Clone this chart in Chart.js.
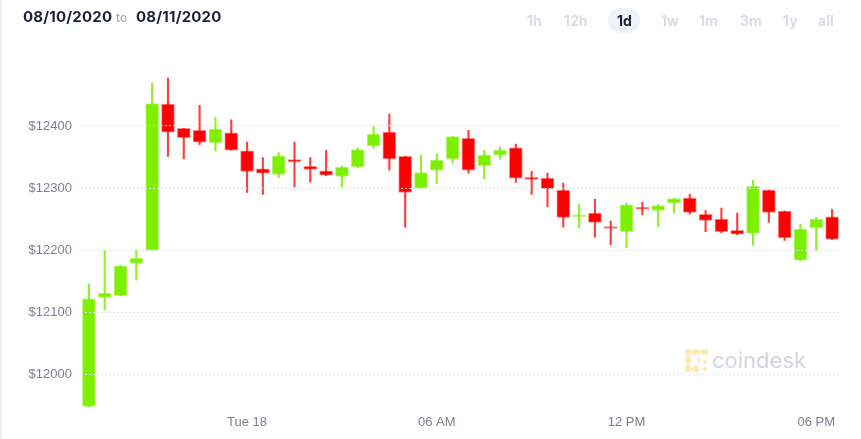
<!DOCTYPE html>
<html><head><meta charset="utf-8">
<script src="https://cdn.jsdelivr.net/npm/chart.js@4/dist/chart.umd.min.js"></script>
<style>
html,body{margin:0;padding:0;background:#fff;width:861px;height:439px;overflow:hidden;position:relative;font-family:Inter,"Liberation Sans",sans-serif}
#edge{position:absolute;left:0;top:0;width:2px;height:439px;background:#f1f2f6}
#cv{position:absolute;left:0;top:0}
.date{position:absolute;top:8px;font-size:15px;line-height:18px;font-weight:700;color:#1b2137;letter-spacing:0.2px}
.to{position:absolute;top:10px;left:116px;font-size:12px;line-height:16px;color:#a9acb8;font-weight:500}
.btn{position:absolute;top:12px;font-size:14px;line-height:18px;font-weight:700;color:#d9dce5}
#pill{position:absolute;left:608px;top:8px;width:32px;height:25px;border-radius:13px;background:#eef2f9}
#wm{position:absolute;left:712px;top:347px;font-size:22px;line-height:26px;color:#d3d5dd;font-weight:400}
#logo{position:absolute;left:684px;top:348px}
</style></head>
<body>
<div id="edge"></div>
<canvas id="cv" width="861" height="439"></canvas>
<div class="date" style="left:23px">08/10/2020</div>
<div class="to">to</div>
<div class="date" style="left:136px">08/11/2020</div>
<div id="pill"></div>
<div class="btn" style="left:527px">1h</div>
<div class="btn" style="left:564px">12h</div>
<div class="btn" style="left:617px;color:#1b2137">1d</div>
<div class="btn" style="left:661px">1w</div>
<div class="btn" style="left:699px">1m</div>
<div class="btn" style="left:740px">3m</div>
<div class="btn" style="left:783px">1y</div>
<div class="btn" style="left:818px">all</div>
<svg id="logo" width="25" height="25" viewBox="0 0 25 25">
 <g fill="#fde9b3" stroke="#fde9b3">
  <path d="M4 4 H21 M4 4 V21 M4 21 H11" stroke-width="3" fill="none"/>
  <circle cx="4" cy="4" r="3"/><circle cx="12" cy="4" r="3"/><circle cx="21" cy="4" r="3"/>
  <circle cx="4" cy="12" r="3"/><circle cx="4" cy="21" r="3"/><circle cx="12" cy="21" r="3"/>
  <circle cx="21" cy="14" r="1.5"/><circle cx="15" cy="12" r="1.5"/><circle cx="21" cy="21" r="1.5"/>
 </g>
</svg>
<div id="wm">coindesk</div>
<script>
const categories = ["19:00","19:30","20:00","20:30","21:00","21:30","22:00","22:30","23:00","23:30",
 "00:00","00:30","01:00","01:30","02:00","02:30","03:00","03:30","04:00","04:30","05:00","05:30",
 "06:00","06:30","07:00","07:30","08:00","08:30","09:00","09:30","10:00","10:30","11:00","11:30",
 "12:00","12:30","13:00","13:30","14:00","14:30","15:00","15:30","16:00","16:30","17:00","17:30",
 "18:00","18:30"];
const opens  = [11949,12124,12127,12179,12200,12435,12396,12393,12373,12389,12360,12331,12322,12346,12335,12328,12319,12334,12368,12390,12351,12300,12329,12347,12380,12336,12353,12365,12315,12316,12297,12254,12260,12237,12230,12269,12264,12276,12284,12258,12250,12232,12227,12297,12263,12184,12236,12254];
const highs  = [12146,12199,12176,12200,12469,12477,12396,12433,12414,12410,12374,12349,12357,12374,12349,12361,12336,12365,12399,12419,12351,12353,12355,12383,12393,12361,12366,12371,12327,12324,12308,12274,12282,12247,12276,12277,12274,12284,12290,12264,12268,12260,12313,12297,12263,12242,12253,12266];
const lows   = [11948,12104,12127,12152,12200,12351,12347,12370,12360,12361,12293,12290,12317,12302,12310,12320,12302,12333,12364,12329,12237,12300,12307,12340,12324,12315,12346,12309,12290,12270,12237,12236,12221,12209,12204,12257,12238,12260,12258,12230,12228,12225,12208,12245,12216,12183,12200,12217];
const closes = [12122,12131,12175,12187,12436,12390,12381,12374,12395,12361,12327,12324,12352,12342,12330,12321,12334,12362,12387,12347,12293,12325,12345,12383,12329,12353,12361,12316,12314,12299,12253,12256,12245,12235,12273,12266,12272,12283,12261,12248,12230,12226,12303,12261,12220,12234,12250,12218];
const yTicks = [12000,12100,12200,12300,12400];
const tickTimes = ["00:00","06:00","12:00","18:00"];
const tickTexts = ["Tue 18","06 AM","12 PM","06 PM"];

const GREEN='#7df000', RED='#ff0000';
const up = closes.map((c,i)=>c>=opens[i]);
const axisFont = {family:'"Liberation Sans", Arial, sans-serif', size:13};
new Chart(document.getElementById('cv'),{
 type:'bar',
 data:{labels:categories,datasets:[
  {data:opens.map((o,i)=>[o,closes[i]]),
   backgroundColor:up.map(u=>u?GREEN:RED),
   borderColor:up.map(u=>u?'rgba(125,240,0,0.5)':'rgba(255,0,0,0.45)'),
   borderWidth:1,borderSkipped:false,barThickness:13,minBarLength:2,grouped:false},
  {data:lows.map((l,i)=>[l,highs[i]]),
   backgroundColor:up.map(u=>u?'rgba(125,240,0,0.85)':'rgba(255,0,0,0.75)'),
   borderWidth:0,barThickness:1.5,grouped:false}
 ]},
 options:{responsive:false,animation:false,devicePixelRatio:1,
  layout:{padding:{left:0,right:21,top:63.8,bottom:0}},
  plugins:{legend:{display:false},tooltip:{enabled:false}},
  scales:{
   x:{grid:{display:false,drawTicks:false},border:{display:false},
      ticks:{autoSkip:false,maxRotation:0,padding:3,color:'#7b8091',font:axisFont,
        callback:(v,i)=>{const k=tickTimes.indexOf(categories[i]);return k>=0?tickTexts[k]:'';}},
      afterFit:s=>{s.height=27.1;}},
   y:{min:11940,max:12500,
      afterBuildTicks:s=>{s.ticks=yTicks.map(v=>({value:v}));},
      grid:{color:'#dde3ef',drawTicks:false,z:1,lineWidth:1},
      border:{display:false,dash:[2,2]},
      ticks:{padding:9,color:'#7b8091',font:axisFont,callback:v=>'$'+v},
      afterFit:s=>{s.width=81;}}
  }}
});
</script>
</body></html>
